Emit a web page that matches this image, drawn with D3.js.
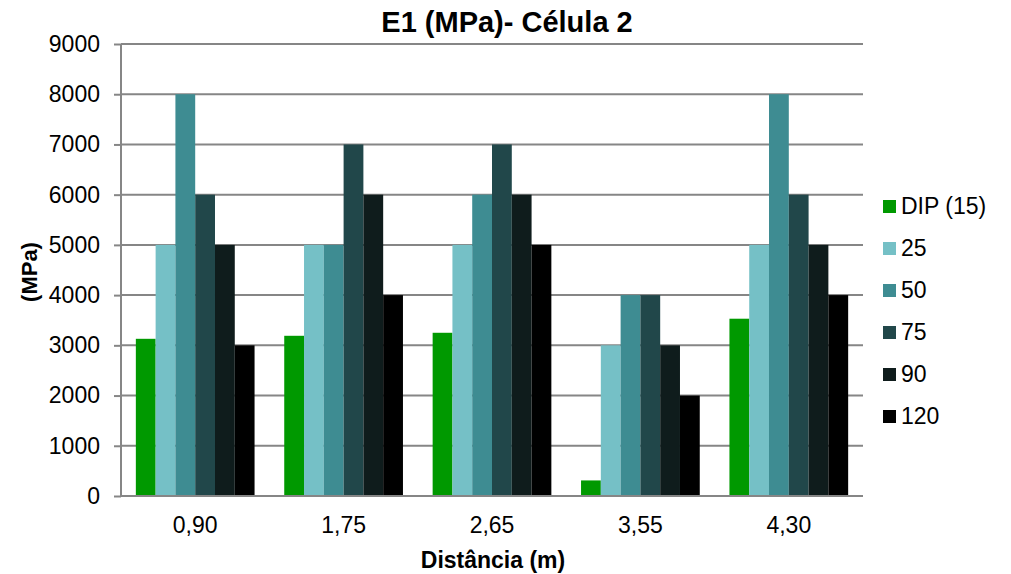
<!DOCTYPE html>
<html>
<head>
<meta charset="utf-8">
<script src="https://cdn.jsdelivr.net/npm/d3@7"></script>
<style>
  html, body { margin: 0; padding: 0; background: #fff; }
  svg { display: block; font-family: "Liberation Sans", Arial, sans-serif; }
</style>
</head>
<body>
<svg id="chart" width="1011" height="574"></svg>
<script>
// Distances along the cell (x categories)
const categories = ["0,90", "1,75", "2,65", "3,55", "4,30"];
// Series names shown in the legend
const seriesNames = ["DIP (15)", "25", "50", "75", "90", "120"];
// E1 modulus (MPa) per series, one value per distance
const dip15 = [3130, 3190, 3250, 310, 3530];
const s25 = [5000, 5000, 5000, 3000, 5000];
const s50 = [8000, 5000, 6000, 4000, 8000];
const s75 = [6000, 7000, 7000, 4000, 6000];
const s90 = [5000, 6000, 6000, 3000, 5000];
const s120 = [3000, 4000, 5000, 2000, 4000];
const yTicks = [0, 1000, 2000, 3000, 4000, 5000, 6000, 7000, 8000, 9000];

const seriesValues = [dip15, s25, s50, s75, s90, s120];
const colors = ["#009900", "#75C0C6", "#3E8C92", "#21474A", "#0F1C1C", "#000000"];

const FONT = "Liberation Sans, Arial, sans-serif";
const svg = d3.select("#chart");
const m = { left: 121, right: 863, top: 44, bottom: 496 };

const x0 = d3.scaleBand().domain(categories).range([m.left, m.right]).paddingInner(0.2).paddingOuter(0.1);
const x1 = d3.scaleBand().domain(seriesNames).range([0, x0.bandwidth()]);
const y = d3.scaleLinear().domain([0, 9000]).range([m.bottom, m.top]);

// horizontal gridlines
svg.append("g")
  .selectAll("line")
  .data(yTicks.filter(t => t > 0))
  .join("line")
  .attr("x1", m.left).attr("x2", m.right)
  .attr("y1", d => y(d)).attr("y2", d => y(d))
  .attr("stroke", "#868686").attr("stroke-width", 2);

// bars
const groups = svg.append("g")
  .selectAll("g")
  .data(categories)
  .join("g")
  .attr("transform", d => `translate(${x0(d)},0)`);

groups.selectAll("rect")
  .data((d, i) => seriesNames.map((s, j) => ({ s, v: seriesValues[j][i], c: colors[j] })))
  .join("rect")
  .attr("x", d => x1(d.s))
  .attr("width", x1.bandwidth())
  .attr("y", d => y(d.v))
  .attr("height", d => y(0) - y(d.v))
  .attr("fill", d => d.c);

// y axis
const yAxis = d3.axisLeft(y).tickValues(yTicks).tickSize(7).tickPadding(14).tickFormat(d3.format("d"));
const gy = svg.append("g").attr("transform", `translate(${m.left},0)`).call(yAxis);
gy.select(".domain").attr("stroke", "#868686").attr("stroke-width", 2).attr("d", `M0,${m.top}V${m.bottom}`);
gy.selectAll(".tick line").attr("stroke", "#868686").attr("stroke-width", 2);
gy.selectAll(".tick text").attr("font-size", 23).attr("fill", "#000").attr("font-family", FONT);

// x axis
const xAxis = d3.axisBottom(x0).tickSize(0).tickPadding(21);
const gx = svg.append("g").attr("transform", `translate(0,${m.bottom})`).call(xAxis);
gx.select(".domain").attr("stroke", "#868686").attr("stroke-width", 2).attr("d", `M${m.left},0H${m.right}`);
gx.selectAll(".tick text").attr("font-size", 23).attr("fill", "#000").attr("font-family", FONT);

// titles
svg.append("text").attr("x", 507).attr("y", 32).attr("text-anchor", "middle")
  .attr("font-size", 29).attr("font-weight", "bold").text("E1 (MPa)- Célula 2");
svg.append("text").attr("x", 493).attr("y", 568).attr("text-anchor", "middle")
  .attr("font-size", 23).attr("font-weight", "bold").text("Distância (m)");
svg.append("text").attr("transform", "translate(37,272) rotate(-90)").attr("text-anchor", "middle")
  .attr("font-size", 22).attr("font-weight", "bold").text("(MPa)");

// legend
const legend = svg.append("g").selectAll("g")
  .data(seriesNames)
  .join("g")
  .attr("transform", (d, i) => `translate(883,${206 + i * 42})`);
legend.append("rect").attr("x", 0).attr("y", -6).attr("width", 13).attr("height", 13)
  .attr("fill", (d, i) => colors[i]);
legend.append("text").attr("x", 18).attr("y", 8)
  .attr("font-size", 23).text(d => d);
</script>
</body>
</html>
